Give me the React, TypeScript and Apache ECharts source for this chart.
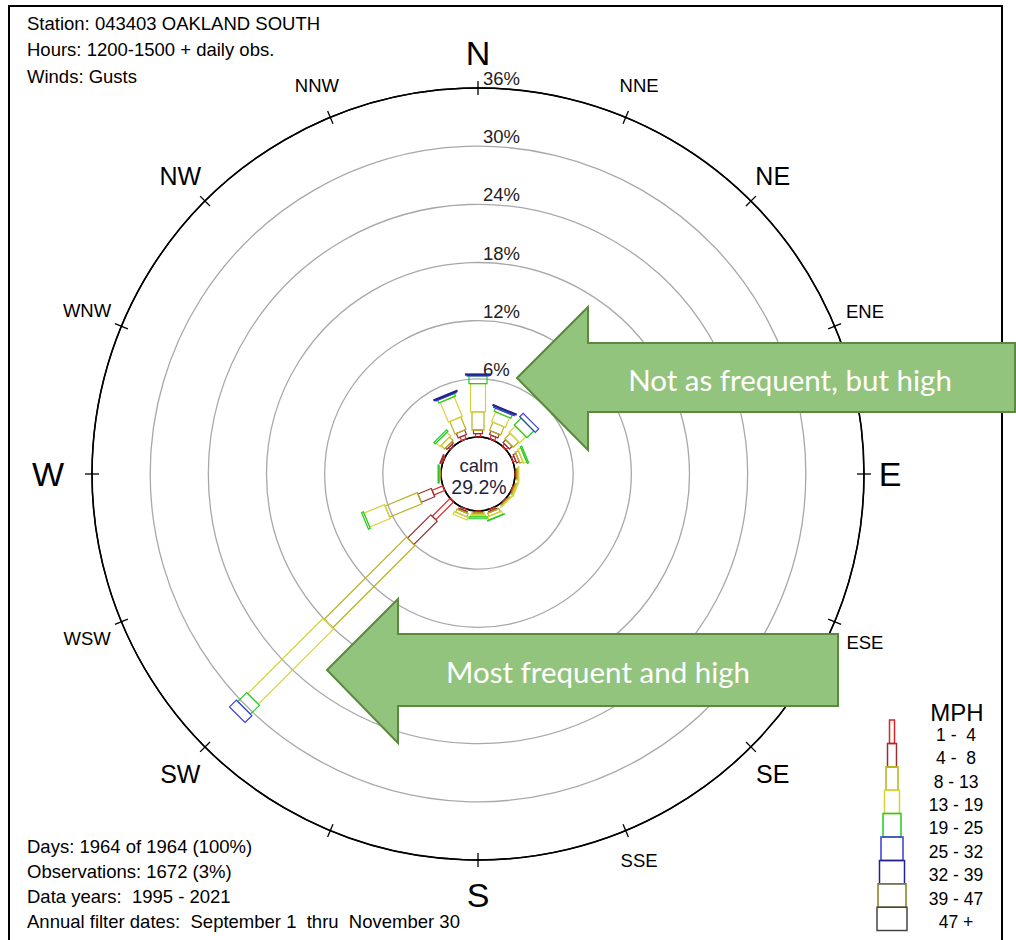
import React, { useEffect, useRef } from "react";
import * as echarts from "echarts";

// ---------- data ----------
const DIRECTIONS = ["N", "NNE", "NE", "ENE", "E", "ESE", "SE", "SSE", "S", "SSW", "SW", "WSW", "W", "WNW", "NW", "NNW"];
// SSW label is hidden in the original
const DIRECTION_LABELS = ["N", "NNE", "NE", "ENE", "E", "ESE", "SE", "SSE", "S", "", "SW", "WSW", "W", "WNW", "NW", "NNW"];
const SPEED_CLASSES = ["1 -  4", "4 -  8", "8 - 13", "13 - 19", "19 - 25", "25 - 32", "32 - 39", "39 - 47", "47 +"];

// frequency (%) per speed class, directions in DIRECTIONS order
const FREQ_1_4 = [0.35, 0.4, 0.3, 0.3, 0.1, 0.1, 0.1, 0.2, 0.1, 0.2, 2.6, 1.2, 0.05, 0.15, 0.25, 0.4];
const FREQ_4_8 = [0.35, 0.4, 0.4, 0.3, 0.1, 0.05, 0.05, 0.1, 0.1, 0.15, 3.4, 1.5, 0.05, 0.1, 0.2, 0.5];
const FREQ_8_13 = [1.9, 0.9, 0.8, 0.35, 0.15, 0.15, 0.1, 0.35, 0.2, 0.35, 12.0, 3.6, 0.05, 0, 0.5, 1.4];
const FREQ_13_19 = [2.9, 1.1, 0.9, 0.35, 0.05, 0.1, 0.05, 0.35, 0.2, 0.3, 11.0, 2.3, 0.05, 0, 0.55, 2.2];
const FREQ_19_25 = [0.8, 0.35, 1.0, 0.15, 0, 0, 0, 0.05, 0.2, 0, 1.3, 0.2, 0.1, 0, 0.2, 0.3];
const FREQ_25_32 = [0.1, 0.15, 0.5, 0, 0, 0, 0, 0, 0, 0, 1.0, 0, 0, 0, 0, 0.1];
const FREQ_32_39 = [0.1, 0.1, 0, 0, 0, 0, 0, 0, 0, 0, 0, 0, 0, 0, 0, 0.1];
const FREQ_39_47 = [0, 0, 0, 0, 0, 0, 0, 0, 0, 0, 0, 0, 0, 0, 0, 0];
const FREQ_47_UP = [0, 0, 0, 0, 0, 0, 0, 0, 0, 0, 0, 0, 0, 0, 0, 0];
const SPEED_SERIES = [FREQ_1_4, FREQ_4_8, FREQ_8_13, FREQ_13_19, FREQ_19_25, FREQ_25_32, FREQ_32_39, FREQ_39_47, FREQ_47_UP];

const RADIUS_MIN = 0;
const RADIUS_MAX = 36;
const RADIUS_STEP = 6;
const CALM_PERCENT = 29.2;

const HEADER_LINES = ["Station: 043403 OAKLAND SOUTH", "Hours: 1200-1500 + daily obs.", "Winds: Gusts"];
const FOOTER_LINES = [
  "Days: 1964 of 1964 (100%)",
  "Observations: 1672 (3%)",
  "Data years:  1995 - 2021",
  "Annual filter dates:  September 1  thru  November 30",
];
const ANNOTATIONS = ["Not as frequent, but high", "Most frequent and high"];

// ---------- styles ----------
const CLASS_COLORS = ["#e02424", "#963232", "#b8b21c", "#d6d238", "#22cc22", "#3a3ae0", "#22228c", "#808020", "#444444"];
const CLASS_WIDTHS = [5, 9, 12, 15, 18, 22, 25, 28, 30];
// small per-label nudges (px) to follow the original label placement
const LABEL_NUDGE_X = [0, 0, -3, -2, -9, -2, -3, 0, 0, 0, 0, -2, -9, -2, 0, 0];
const LABEL_NUDGE_Y = [0, 0, 0, -1, 0, 7, 2, -2, 0, 0, 2, 3, 0, -2, 0, 0];
const FONT = "'Liberation Sans', Arial, sans-serif";
const CX = 478;
const CY = 474;
const R_INNER = 37;
const R_OUTER = 386;

export default function App() {
  const ref = useRef<HTMLDivElement>(null);

  useEffect(() => {
    if (!ref.current) return;
    const chart = echarts.init(ref.current, undefined, { renderer: "svg" });

    const petalData: number[][] = [];
    DIRECTIONS.forEach((_, d) => {
      let cum = 0;
      SPEED_SERIES.forEach((arr, k) => {
        const v = arr[d];
        if (v > 0) petalData.push([d, k, cum, cum + v]);
        cum += v;
      });
    });

    const step = 360 / DIRECTIONS.length;

    const unitFor = (api: any, ang: number) => {
      const a = api.coord([RADIUS_MIN, ang]);
      const b = api.coord([RADIUS_MAX, ang]);
      const len = Math.hypot(b[0] - a[0], b[1] - a[1]) || 1;
      return { a, b, ux: (b[0] - a[0]) / len, uy: (b[1] - a[1]) / len };
    };

    const legendEls: any[] = [];
    const LEG_X = 892;
    const LEG_Y = 720;
    const ROW_H = 23.4;
    SPEED_CLASSES.forEach((lab, i) => {
      const w = CLASS_WIDTHS[i];
      legendEls.push({
        type: "rect",
        shape: { x: LEG_X - w / 2, y: LEG_Y + i * ROW_H, width: w, height: ROW_H },
        style: { fill: "none", stroke: CLASS_COLORS[i], lineWidth: 1.5 },
      });
      legendEls.push({
        type: "text",
        x: 956,
        y: LEG_Y + i * ROW_H + ROW_H / 2 + 3,
        style: { text: lab, fontSize: 17.5, fontFamily: FONT, fill: "#000", align: "center", verticalAlign: "middle" },
      });
    });
    legendEls.push({
      type: "text",
      x: 957,
      y: 712,
      style: { text: "MPH", fontSize: 24, fontFamily: FONT, fill: "#000", align: "center", verticalAlign: "middle" },
    });

    const textLines = (lines: string[], y0: number, dy: number) =>
      lines.map((t, i) => ({
        type: "text",
        x: 27,
        y: y0 + i * dy,
        style: { text: t, fontSize: 18.5, fontFamily: FONT, fill: "#000", align: "left", verticalAlign: "middle" },
      }));

    const arrowStyle = { fill: "#93c47d", stroke: "#5b8a3e", lineWidth: 2 };
    const ANN_FONT = "Lato, 'Open Sans', sans-serif";

    const option: any = {
      animation: false,
      backgroundColor: "#fff",
      polar: { center: [CX, CY], radius: [R_INNER, R_OUTER] },
      angleAxis: {
        type: "value",
        min: 0,
        max: 360,
        startAngle: 90,
        clockwise: true,
        axisLine: { show: true, lineStyle: { color: "#000", width: 1.6 } },
        axisTick: { show: false },
        axisLabel: { show: false },
        splitLine: { show: false },
      },
      radiusAxis: {
        type: "value",
        min: RADIUS_MIN,
        max: RADIUS_MAX,
        interval: RADIUS_STEP,
        axisLine: { show: false },
        axisTick: { show: false },
        axisLabel: {
          show: true,
          margin: -5,
          align: "left",
          verticalAlign: "bottom",
          fontSize: 18.5,
          fontFamily: FONT,
          color: "#222",
          formatter: (v: number) => (v === 0 ? "" : v + "%"),
        },
        splitLine: {
          show: true,
          lineStyle: { color: ["#000", "#a8a8a8", "#a8a8a8", "#a8a8a8", "#a8a8a8", "#a8a8a8", "#000"], width: 1.3 },
        },
      },
      series: [
        {
          type: "custom",
          coordinateSystem: "polar",
          data: petalData,
          z: 5,
          renderItem: (params: any, api: any) => {
            const d = api.value(0);
            const k = api.value(1);
            const r0 = api.value(2);
            const r1 = api.value(3);
            const ang = d * step;
            const { ux, uy } = unitFor(api, ang);
            const p0 = api.coord([r0, ang]);
            const p1 = api.coord([r1, ang]);
            const hw = CLASS_WIDTHS[k] / 2;
            const nx = -uy;
            const ny = ux;
            return {
              type: "polygon",
              shape: {
                points: [
                  [p0[0] + nx * hw, p0[1] + ny * hw],
                  [p1[0] + nx * hw, p1[1] + ny * hw],
                  [p1[0] - nx * hw, p1[1] - ny * hw],
                  [p0[0] - nx * hw, p0[1] - ny * hw],
                ],
              },
              style: { fill: "none", stroke: CLASS_COLORS[k], lineWidth: 1.2 },
            };
          },
        },
        {
          type: "custom",
          coordinateSystem: "polar",
          data: DIRECTIONS.map((_, i) => [i]),
          z: 6,
          renderItem: (params: any, api: any) => {
            const i = api.value(0);
            const ang = i * step;
            const { b, ux, uy } = unitFor(api, ang);
            const size = i % 4 === 0 ? 34 : i % 2 === 0 ? 25 : 18.5;
            return {
              type: "group",
              children: [
                {
                  type: "line",
                  shape: { x1: b[0] - ux * 7, y1: b[1] - uy * 7, x2: b[0] + ux * 7, y2: b[1] + uy * 7 },
                  style: { stroke: "#000", lineWidth: 1.3 },
                },
                {
                  type: "text",
                  x: b[0] + ux * 35 + LABEL_NUDGE_X[i],
                  y: b[1] + uy * 35 + LABEL_NUDGE_Y[i],
                  style: {
                    text: DIRECTION_LABELS[i],
                    fontSize: size,
                    fontFamily: FONT,
                    fill: "#000",
                    align: "center",
                    verticalAlign: "middle",
                  },
                },
              ],
            };
          },
        },
      ],
      graphic: [
        {
          type: "rect",
          z: 0,
          shape: { x: 9, y: 6, width: 993, height: 950 },
          style: { fill: "none", stroke: "#000", lineWidth: 2 },
        },
        ...textLines(HEADER_LINES, 23, 26.5),
        ...textLines(FOOTER_LINES, 846, 25.3),
        {
          type: "text",
          x: CX + 1,
          y: CY - 9,
          z: 10,
          style: { text: "calm", fontSize: 18.5, fontFamily: FONT, fill: "#1e2440", align: "center", verticalAlign: "middle" },
        },
        {
          type: "text",
          x: CX + 1,
          y: CY + 13,
          z: 10,
          style: {
            text: CALM_PERCENT.toFixed(1) + "%",
            fontSize: 19.5,
            fontFamily: FONT,
            fill: "#1e2440",
            align: "center",
            verticalAlign: "middle",
          },
        },
        ...legendEls,
        {
          type: "polygon",
          z: 20,
          shape: { points: [[517, 378], [588, 307], [588, 343], [1015, 343], [1015, 412], [588, 412], [588, 450]] },
          style: arrowStyle,
        },
        {
          type: "text",
          z: 21,
          x: 790,
          y: 379,
          style: { text: ANNOTATIONS[0], fontSize: 29.5, fontFamily: ANN_FONT, fill: "#fff", align: "center", verticalAlign: "middle" },
        },
        {
          type: "polygon",
          z: 20,
          shape: { points: [[327, 670], [398, 599], [398, 634], [838, 634], [838, 706], [398, 706], [398, 743]] },
          style: arrowStyle,
        },
        {
          type: "text",
          z: 21,
          x: 598,
          y: 671,
          style: { text: ANNOTATIONS[1], fontSize: 29.5, fontFamily: ANN_FONT, fill: "#fff", align: "center", verticalAlign: "middle" },
        },
      ],
    };

    chart.setOption(option);
    return () => chart.dispose();
  }, []);

  return (
    <div
      ref={ref}
      style={{ position: "absolute", left: 0, top: 0, width: 1016, height: 940, background: "#fff" }}
    />
  );
}
